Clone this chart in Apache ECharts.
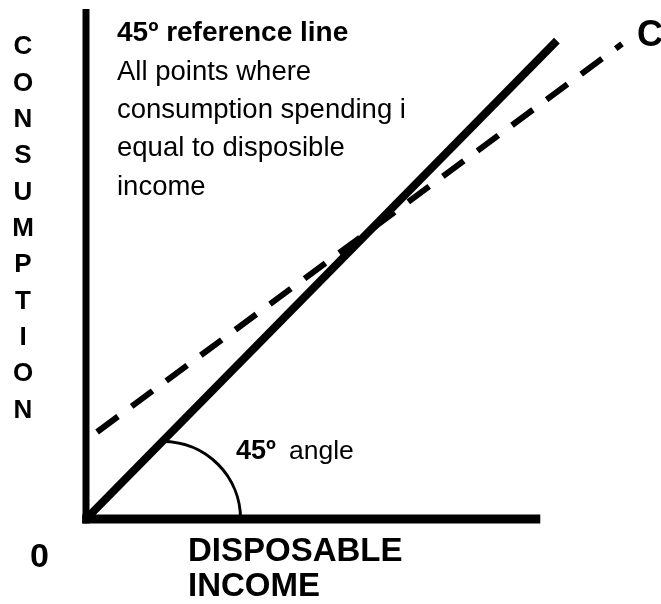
<!DOCTYPE html>
<html>
<head>
<meta charset="utf-8">
<script src="https://cdn.jsdelivr.net/npm/echarts@6/dist/echarts.min.js"></script>
<style>html,body{margin:0;padding:0;background:#fff;}#c{width:661px;height:604px;}</style>
</head>
<body>
<div id="c"></div>
<script>
// Axis frame (data units)
var yAxisLineX = [0, 0];
var yAxisLineY = [-0.8, 92];
var xAxisLineX = [-0.7, 82];
var xAxisLineY = [0, 0];
// 45 degree reference line
var refX = [0, 85];
var refY = [0, 86.3];
// Consumption function (dashed)
var consX = [2.0, 96.75];
var consY = [15.7, 85.7];
// 45 degree angle marker: centre and radius
var arcCenter = [13.9, 0];
var arcRadius = 14;

var FONT = 'Liberation Sans, Arial, sans-serif';

function pairs(xs, ys) { return xs.map(function (x, i) { return [x, ys[i]]; }); }
function txt(x, y, text, font, extra) {
  var style = {text: text, font: font, fill: '#000', align: 'left', verticalAlign: 'middle'};
  for (var k in (extra || {})) style[k] = extra[k];
  return {type: 'text', x: x, y: y, style: style};
}

var chart = echarts.init(document.getElementById('c'), null, {renderer: 'canvas'});
chart.setOption({
  animation: false,
  backgroundColor: '#ffffff',
  grid: {left: 86, right: 21, top: 9, bottom: 85},
  xAxis: {type: 'value', min: 0, max: 100, show: false},
  yAxis: {type: 'value', min: 0, max: 92, show: false},
  series: [
    {type: 'line', data: pairs(yAxisLineX, yAxisLineY), symbol: 'none', clip: false,
     lineStyle: {color: '#000', width: 7, cap: 'butt'}},
    {type: 'line', data: pairs(xAxisLineX, xAxisLineY), symbol: 'none', clip: false,
     lineStyle: {color: '#000', width: 9, cap: 'butt'}},
    {type: 'line', data: pairs(refX, refY), symbol: 'none', clip: false,
     lineStyle: {color: '#000', width: 8, cap: 'butt'}},
    {type: 'line', data: pairs(consX, consY), symbol: 'none', clip: false,
     lineStyle: {color: '#000', width: 6, type: [26, 17], cap: 'butt'}},
    {type: 'custom', data: [arcCenter], clip: false,
     renderItem: function (params, api) {
       var c = api.coord([api.value(0), api.value(1)]);
       var r = api.size([arcRadius, 0])[0];
       return {type: 'arc', shape: {cx: c[0], cy: c[1], r: r, startAngle: -Math.PI / 2, endAngle: 0, clockwise: true},
               style: {stroke: '#000', lineWidth: 3, fill: null}};
     }}
  ],
  graphic: [
    txt(117, 33, '45º reference line', 'bold 28px ' + FONT),
    txt(117, 53, 'All points where\nconsumption spending i\nequal to disposible\nincome', '27.5px ' + FONT, {verticalAlign: 'top', lineHeight: 38.3}),
    txt(23, 29, 'C\nO\nN\nS\nU\nM\nP\nT\nI\nO\nN', 'bold 26px ' + FONT, {align: 'center', verticalAlign: 'top', lineHeight: 36.35}),
    txt(637, 36, 'C', 'bold 36px ' + FONT),
    txt(236, 452, '45º', 'bold 27px ' + FONT),
    txt(289, 452, 'angle', '26.5px ' + FONT),
    txt(30, 558, '0', 'bold 34px ' + FONT),
    txt(188, 534, 'DISPOSABLE\nINCOME', 'bold 33px ' + FONT, {verticalAlign: 'top', lineHeight: 35})
  ]
});
</script>
</body>
</html>
